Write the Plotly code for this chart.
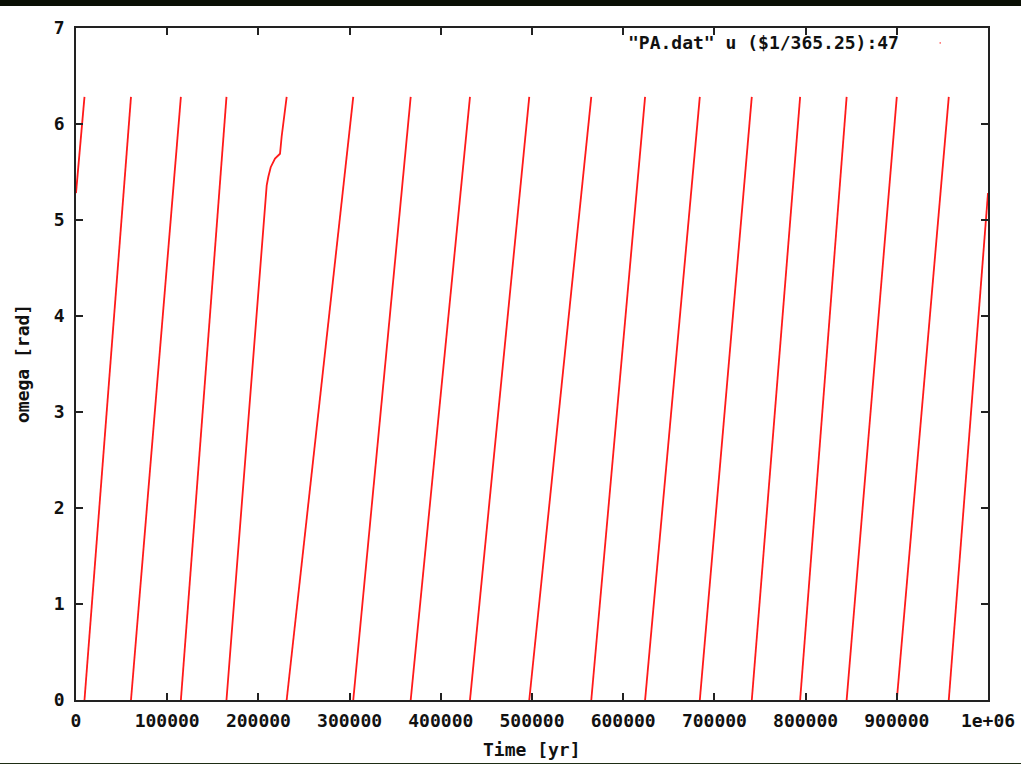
import plotly.graph_objects as go

TWO_PI = 6.283

# Times (yr) where omega wraps: each cycle starts at omega=0 and ends at 2*pi
cycle_start = [9300, 60300, 115000, 165000, 231000, 304000, 367000, 432000,
               497000, 565000, 624000, 684000, 741000, 794000, 845000, 900000, 957000]
cycle_end = [60300, 115000, 165000, 231000, 304000, 367000, 432000, 497000,
             565000, 624000, 684000, 741000, 794000, 845000, 900000, 957000, 1000000]
cycle_end_omega = [TWO_PI] * 16 + [5.28]

# first partial cycle (before t=9300)
first_t = [0, 9300]
first_w = [5.28, TWO_PI]

# the cycle starting at 165000 has a shoulder near omega 5.4-5.7
bend_t = [209100, 210900, 213500, 218200, 223700, 225500, 228100]
bend_w = [5.36, 5.45, 5.55, 5.64, 5.69, 5.87, 6.04]

xs, ys = list(first_t) + [None], list(first_w) + [None]
for s, e, we in zip(cycle_start, cycle_end, cycle_end_omega):
    xs.append(s); ys.append(0.0)
    if s == 165000:
        xs += bend_t; ys += bend_w
    xs.append(e); ys.append(we)
    xs.append(None); ys.append(None)

x_ticks = [0, 100000, 200000, 300000, 400000, 500000, 600000, 700000, 800000, 900000, 1000000]
x_labels = ["0", "100000", "200000", "300000", "400000", "500000", "600000",
            "700000", "800000", "900000", "1e+06"]
y_ticks = [0, 1, 2, 3, 4, 5, 6, 7]

FONT = dict(family="DejaVu Sans Mono", size=18, color="#111", weight="bold")

fig = go.Figure()
fig.add_trace(go.Scatter(x=xs, y=ys, mode="lines",
                         line=dict(color="#ff1a1a", width=1.8),
                         connectgaps=False, showlegend=False, hoverinfo="skip"))

axis_common = dict(showgrid=False, zeroline=False, showline=True, linecolor="#222",
                   linewidth=1.5, mirror="allticks", ticks="inside", ticklen=7,
                   tickwidth=1.5, tickcolor="#222", tickfont=FONT, automargin=False)

fig.update_xaxes(range=[0, 1000000], tickmode="array", tickvals=x_ticks,
                 ticktext=x_labels, ticklabelstandoff=4, **axis_common)
fig.update_yaxes(range=[0, 7], tickmode="array", tickvals=y_ticks,
                 ticktext=[str(v) for v in y_ticks], ticklabelstandoff=6, **axis_common)

fig.update_layout(
    width=1021, height=764,
    margin=dict(l=76, r=33, t=28, b=64),
    paper_bgcolor="white", plot_bgcolor="white",
    showlegend=False,
    annotations=[
        dict(text='"PA.dat" u ($1/365.25):47', xref="paper", yref="paper",
             x=0.9046, y=0.9777, xanchor="right", yanchor="middle",
             showarrow=False, font=FONT),
        dict(text="Time [yr]", xref="paper", yref="paper", x=0.5, y=-0.0744,
             xanchor="center", yanchor="middle", showarrow=False, font=FONT),
        dict(text="omega [rad]", xref="paper", yref="paper", x=-0.0592, y=0.5,
             xanchor="center", yanchor="middle", showarrow=False, font=FONT,
             textangle=-90),
    ],
    shapes=[
        dict(type="rect", xref="paper", yref="paper", x0=-0.1, x1=1.1,
             y0=1.0327, y1=1.05, fillcolor="#0a0f05", line=dict(width=0)),
        dict(type="rect", xref="paper", yref="paper", x0=-0.1, x1=1.1,
             y0=-0.0952, y1=-0.0938, fillcolor="#1e2d14", line=dict(width=0)),
        dict(type="rect", xref="paper", yref="paper", x0=0.9468, x1=0.9485,
             y0=0.9770, y1=0.9785, fillcolor="#ff1a1a", line=dict(width=0)),
    ],
)

fig.write_html("out.html")
